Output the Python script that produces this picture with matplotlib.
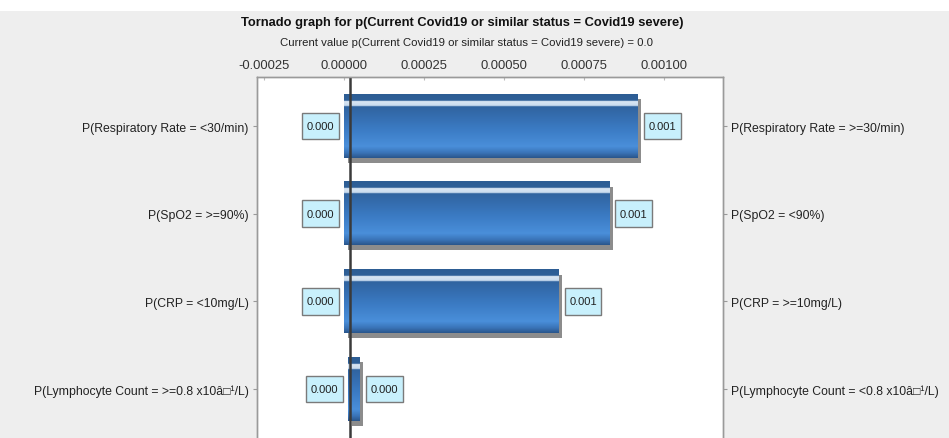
import numpy as np
import matplotlib
matplotlib.use("Agg")
import matplotlib.pyplot as plt
from matplotlib.path import Path
from matplotlib.patches import Rectangle
from matplotlib.transforms import ScaledTranslation
from matplotlib.colors import LinearSegmentedColormap

plt.rcParams['font.family'] = ['Liberation Sans', 'DejaVu Sans']

# Data
left_labels = ["P(Respiratory Rate = <30/min)",
               "P(SpO2 = >=90%)",
               "P(CRP = <10mg/L)",
               "P(Lymphocyte Count = >=0.8 x10â\u25a1\u00b9/L)"]
right_labels = ["P(Respiratory Rate = >=30/min)",
                "P(SpO2 = <90%)",
                "P(CRP = >=10mg/L)",
                "P(Lymphocyte Count = <0.8 x10â\u25a1\u00b9/L)"]
low_values = [0.0, 0.0, 0.0, 0.000013]
high_values = [0.000916, 0.000828, 0.000669, 0.000048]
low_text = ["0.000", "0.000", "0.000", "0.000"]
high_text = ["0.001", "0.001", "0.001", "0.000"]
current_value = 0.00002
x_ticks = [-0.00025, 0.0, 0.00025, 0.0005, 0.00075, 0.001]
x_tick_labels = ["-0.00025", "0.00000", "0.00025", "0.00050", "0.00075", "0.00100"]

title = "Tornado graph for p(Current Covid19 or similar status = Covid19 severe)"
subtitle = "Current value p(Current Covid19 or similar status = Covid19 severe) = 0.0"

fig = plt.figure(figsize=(9.49, 4.39), dpi=100, facecolor='#eeeeee')
# white strip on top of the window
fig.patches.append(Rectangle((0, 1 - 12 / 439), 1, 12 / 439, transform=fig.transFigure,
                             facecolor='white', edgecolor='none', zorder=0))

ax = fig.add_axes([257 / 949, 0, 466 / 949, 361 / 439])
ax.set_facecolor('white')

rows = np.arange(len(left_labels))
widths = np.array(high_values) - np.array(low_values)
bar_h = 0.72

# shadow
shadow = ax.barh(rows, widths, left=low_values, height=bar_h, color='#8c8c8c', zorder=2)
off = ScaledTranslation(4 / 100, -5 / 100, fig.dpi_scale_trans)
for p in shadow:
    p.set_transform(ax.transData + off)

bars = ax.barh(rows, widths, left=low_values, height=bar_h, color='#3a75bb', zorder=3)

# 3d look gradient for each bar
stops = [(0.0, '#2d5d94'), (0.10, '#2f6098'), (0.11, '#dbe7f3'), (0.18, '#c9dbee'),
         (0.19, '#30639f'), (0.55, '#3b7bc4'), (0.82, '#4a8fda'), (0.92, '#3a74b8'),
         (1.0, '#2a568c')]
cmap = LinearSegmentedColormap.from_list('bar3d', stops)
grad = np.linspace(0, 1, 200).reshape(-1, 1)
for p in bars:
    x0, y0, w, h = p.get_x(), p.get_y(), p.get_width(), p.get_height()
    ax.imshow(grad, cmap=cmap, extent=[x0, x0 + w, y0 + h, y0], origin='upper',
              aspect='auto', zorder=3.5, interpolation='bilinear')

ax.axvline(current_value, color='#3a3a3a', lw=1.8, zorder=4)


def value_box(x0, y0, width, height, mutation_size):
    px = 0.42 * mutation_size
    py = 0.75 * mutation_size
    return Path([(x0 - px, y0 - py), (x0 + width + px, y0 - py),
                 (x0 + width + px, y0 + height + py), (x0 - px, y0 + height + py),
                 (x0 - px, y0 - py)], closed=True)


box_style = dict(boxstyle=value_box, facecolor='#c8f0fc', edgecolor='#7a7a7a', lw=1)
for i in rows:
    ax.annotate(low_text[i], xy=(low_values[i], i), xytext=(-10, 0),
                textcoords='offset pixels', ha='right', va='center', fontsize=8,
                color='#202020', bbox=box_style, zorder=5)
    ax.annotate(high_text[i], xy=(high_values[i], i), xytext=(11, 0),
                textcoords='offset pixels', ha='left', va='center', fontsize=8,
                color='#202020', bbox=box_style, zorder=5)

ax.set_xlim(-0.000272, 0.001184)
ax.set_ylim(3.559, -0.559)

ax.xaxis.tick_top()
ax.set_xticks(x_ticks)
ax.set_xticklabels(x_tick_labels)
ax.tick_params(axis='x', direction='in', length=2, color='#bbbbbb', labelsize=9.4,
               labelcolor='#333333', pad=4)

ax.set_yticks(rows)
ax.set_yticklabels(left_labels)
ax.tick_params(axis='y', direction='out', length=3, color='#999999', labelsize=8.8,
               labelcolor='#222222', pad=3)

ax2 = ax.twinx()
ax2.set_ylim(ax.get_ylim())
ax2.set_yticks(rows)
ax2.set_yticklabels(right_labels)
ax2.tick_params(axis='y', direction='out', length=3, color='#999999', labelsize=8.8,
                labelcolor='#222222', pad=3)

for a in (ax, ax2):
    for s in ('top', 'left', 'right'):
        a.spines[s].set_color('#9a9a9a')
        a.spines[s].set_linewidth(1)
    a.spines['bottom'].set_visible(False)

fig.text(462 / 949, 1 - 23 / 439, title, ha='center', va='center', fontsize=9.3,
         fontweight='bold', color='#111111')
fig.text(467 / 949, 1 - 43 / 439, subtitle, ha='center', va='center', fontsize=8.2,
         color='#222222')

fig.savefig('out.png', dpi=100, facecolor=fig.get_facecolor())
